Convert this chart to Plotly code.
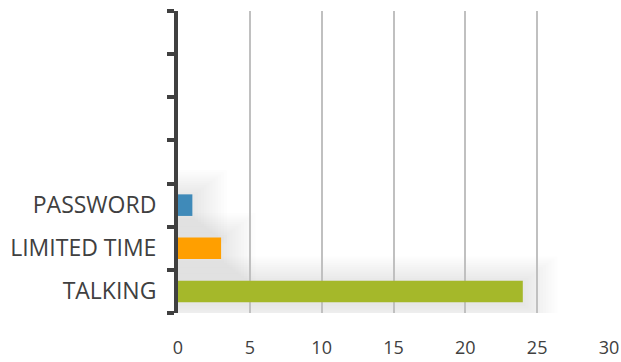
import plotly.graph_objects as go

categories = ["TALKING", "LIMITED TIME", "PASSWORD"]
values = [24, 3, 1]
colors = ["#A5B82A", "#FF9F00", "#3F8AB9"]
empty_slots = [" ", "  ", "   ", "    "]
x_ticks = [0, 5, 10, 15, 20, 25, 30]

fig = go.Figure()
fig.add_trace(go.Bar(
    y=categories, x=values, orientation="h",
    marker=dict(color=colors, line=dict(width=0)),
    width=0.5, showlegend=False, hoverinfo="skip",
))

# soft glow behind bars (derived from data)
shapes = []
for i, v in enumerate(values):
    for k in range(1, 13):
        dx = 0.2 * k
        dy = 0.05 * k
        shapes.append(dict(
            type="rect", xref="x", yref="y", layer="below",
            x0=0, x1=v + dx, y0=i - 0.25 - dy - 0.04, y1=i + 0.25 + dy - 0.04,
            fillcolor="rgba(120,120,120,0.014)", line=dict(width=0),
        ))

fig.update_layout(
    width=621, height=362,
    margin=dict(l=178, r=12, t=11, b=49),
    plot_bgcolor="white", paper_bgcolor="white",
    font=dict(family="Open Sans", color="#404040"),
    shapes=shapes,
)
fig.update_xaxes(
    range=[0, 30], tickvals=x_ticks, ticktext=[str(v) for v in x_ticks],
    showgrid=True, gridcolor="#c0c0c0", gridwidth=1.5,
    zeroline=False, showline=False, automargin=False,
    ticks="outside", ticklen=18, tickcolor="rgba(0,0,0,0)",
    tickfont=dict(size=18, color="#404040"),
)
fig.update_yaxes(
    type="category",
    categoryorder="array", categoryarray=categories + empty_slots,
    range=[-0.5, 6.5], automargin=False,
    showline=True, linecolor="#404040", linewidth=4,
    ticks="outside", tickson="boundaries", ticklen=7, tickwidth=4, tickcolor="#404040",
    showgrid=False,
    tickfont=dict(size=23, color="#404040"),
    ticklabelstandoff=13,
)

fig.write_html("out.html", config={"displayModeBar": False},
               post_script="document.body.style.margin='0';")
